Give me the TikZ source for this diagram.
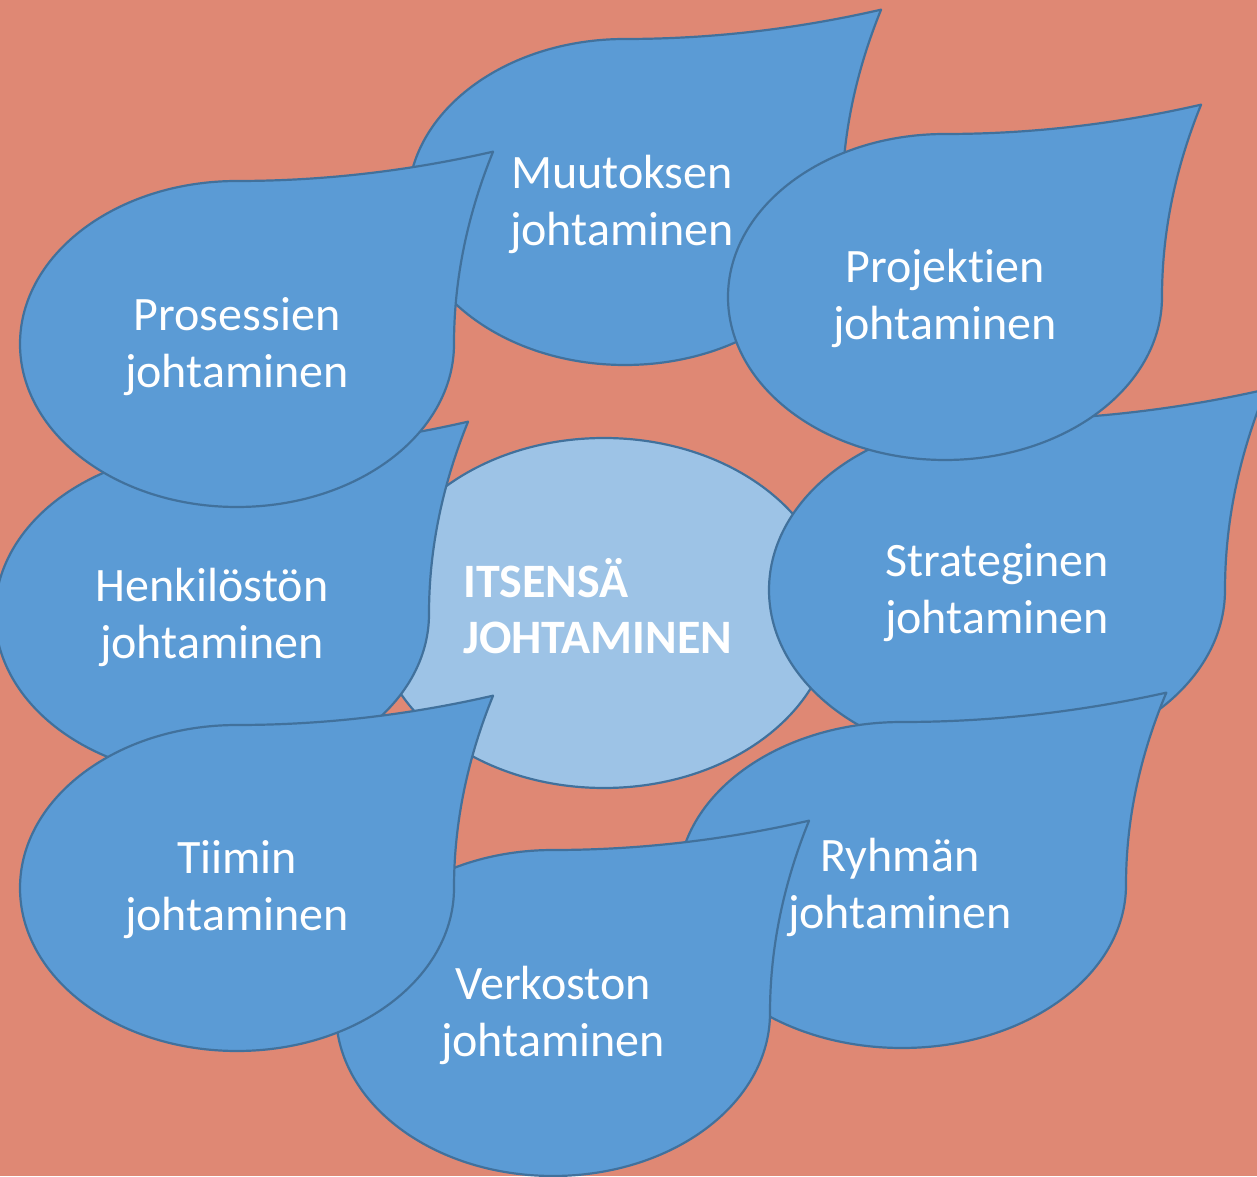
\documentclass[tikz,border=0pt]{standalone}
\usepackage{fontspec}
\setmainfont{Carlito}[Ligatures=NoCommon]
\usepackage{tikz}
\definecolor{bgsalmon}{RGB}{223,136,116}
\definecolor{dropblue}{RGB}{91,155,213}
\definecolor{dropedge}{RGB}{65,113,156}
\definecolor{centerblue}{RGB}{157,195,230}
\tikzset{drop/.style = {fill=dropblue, draw=dropedge, line width=2.2pt, line join=round}}
\tikzset{centerdisc/.style = {fill=centerblue, draw=dropedge, line width=2.2pt}}
\tikzset{droptext/.style = {text=white, align=center, inner sep=0pt, font=\fontsize{48}{57}\selectfont}}
\tikzset{centertext/.style = {text=white, align=left, anchor=west, inner sep=0pt, font=\bfseries\fontsize{48}{56}\selectfont}}
% teardrop: centre x, centre y (from the top), x radius, y radius
\newcommand{\dropshape}[4]{%
  \pgfmathsetmacro{\dy}{1176-#2}
  \pgfmathsetmacro{\tipx}{#1+1.18*#3}
  \pgfmathsetmacro{\tipy}{\dy+1.18*#4}
  \draw[drop] (#1-#3,\dy) arc[start angle=180, end angle=90, x radius=#3, y radius=#4]
    .. controls ({#1+1.18*#3/3},{\dy+#4}) and ({#1+2*1.18*#3/3},{\dy+1.18*#4-2*0.18*#4/3}) .. (\tipx,\tipy)
    .. controls ({#1+1.18*#3-2*0.18*#3/3},{\dy+2*1.18*#4/3}) and ({#1+#3},{\dy+1.18*#4/3}) .. (#1+#3,\dy)
    arc[start angle=0, end angle=-180, x radius=#3, y radius=#4] -- cycle;
}

\begin{document}
\begin{tikzpicture}[x=1pt, y=1pt]
\useasboundingbox (0,0) rectangle (1257,1176);
\clip (0,0) rectangle (1257,1176);
\fill[bgsalmon] (0,0) rectangle (1257,1176);

\draw[centerdisc] (604,1176-613) ellipse [x radius=229, y radius=175];
\node[centertext] (itse) at (463,1176-606) {ITSENSÄ\\JOHTAMINEN};

\dropshape{625}{202}{217}{163}
\node[droptext] (muutos) at (622,1176-204) {Muutoksen\\johtaminen};

\dropshape{997}{590}{228}{170}
\node[droptext] (strat) at (997,1176-593) {Strateginen\\johtaminen};

\dropshape{945}{297}{217}{163}
\node[droptext] (projekti) at (945,1176-298) {Projektien\\johtaminen};

\dropshape{902}{885}{224}{163}
\node[droptext] (ryhma) at (900,1176-887) {Ryhmän\\johtaminen};

\dropshape{553}{1013}{217}{163}
\node[droptext] (verkosto) at (553,1176-1015) {Verkoston\\johtaminen};

\dropshape{212}{614}{217}{163}
\node[droptext] (henkilo) at (212,1176-617) {Henkilöstön\\johtaminen};

\dropshape{237}{344}{217}{163}
\node[droptext] (prosessi) at (237,1176-347) {Prosessien\\johtaminen};

\dropshape{237}{888}{217}{163}
\node[droptext] (tiimi) at (237,1176-890) {Tiimin\\johtaminen};
\end{tikzpicture}
\end{document}
